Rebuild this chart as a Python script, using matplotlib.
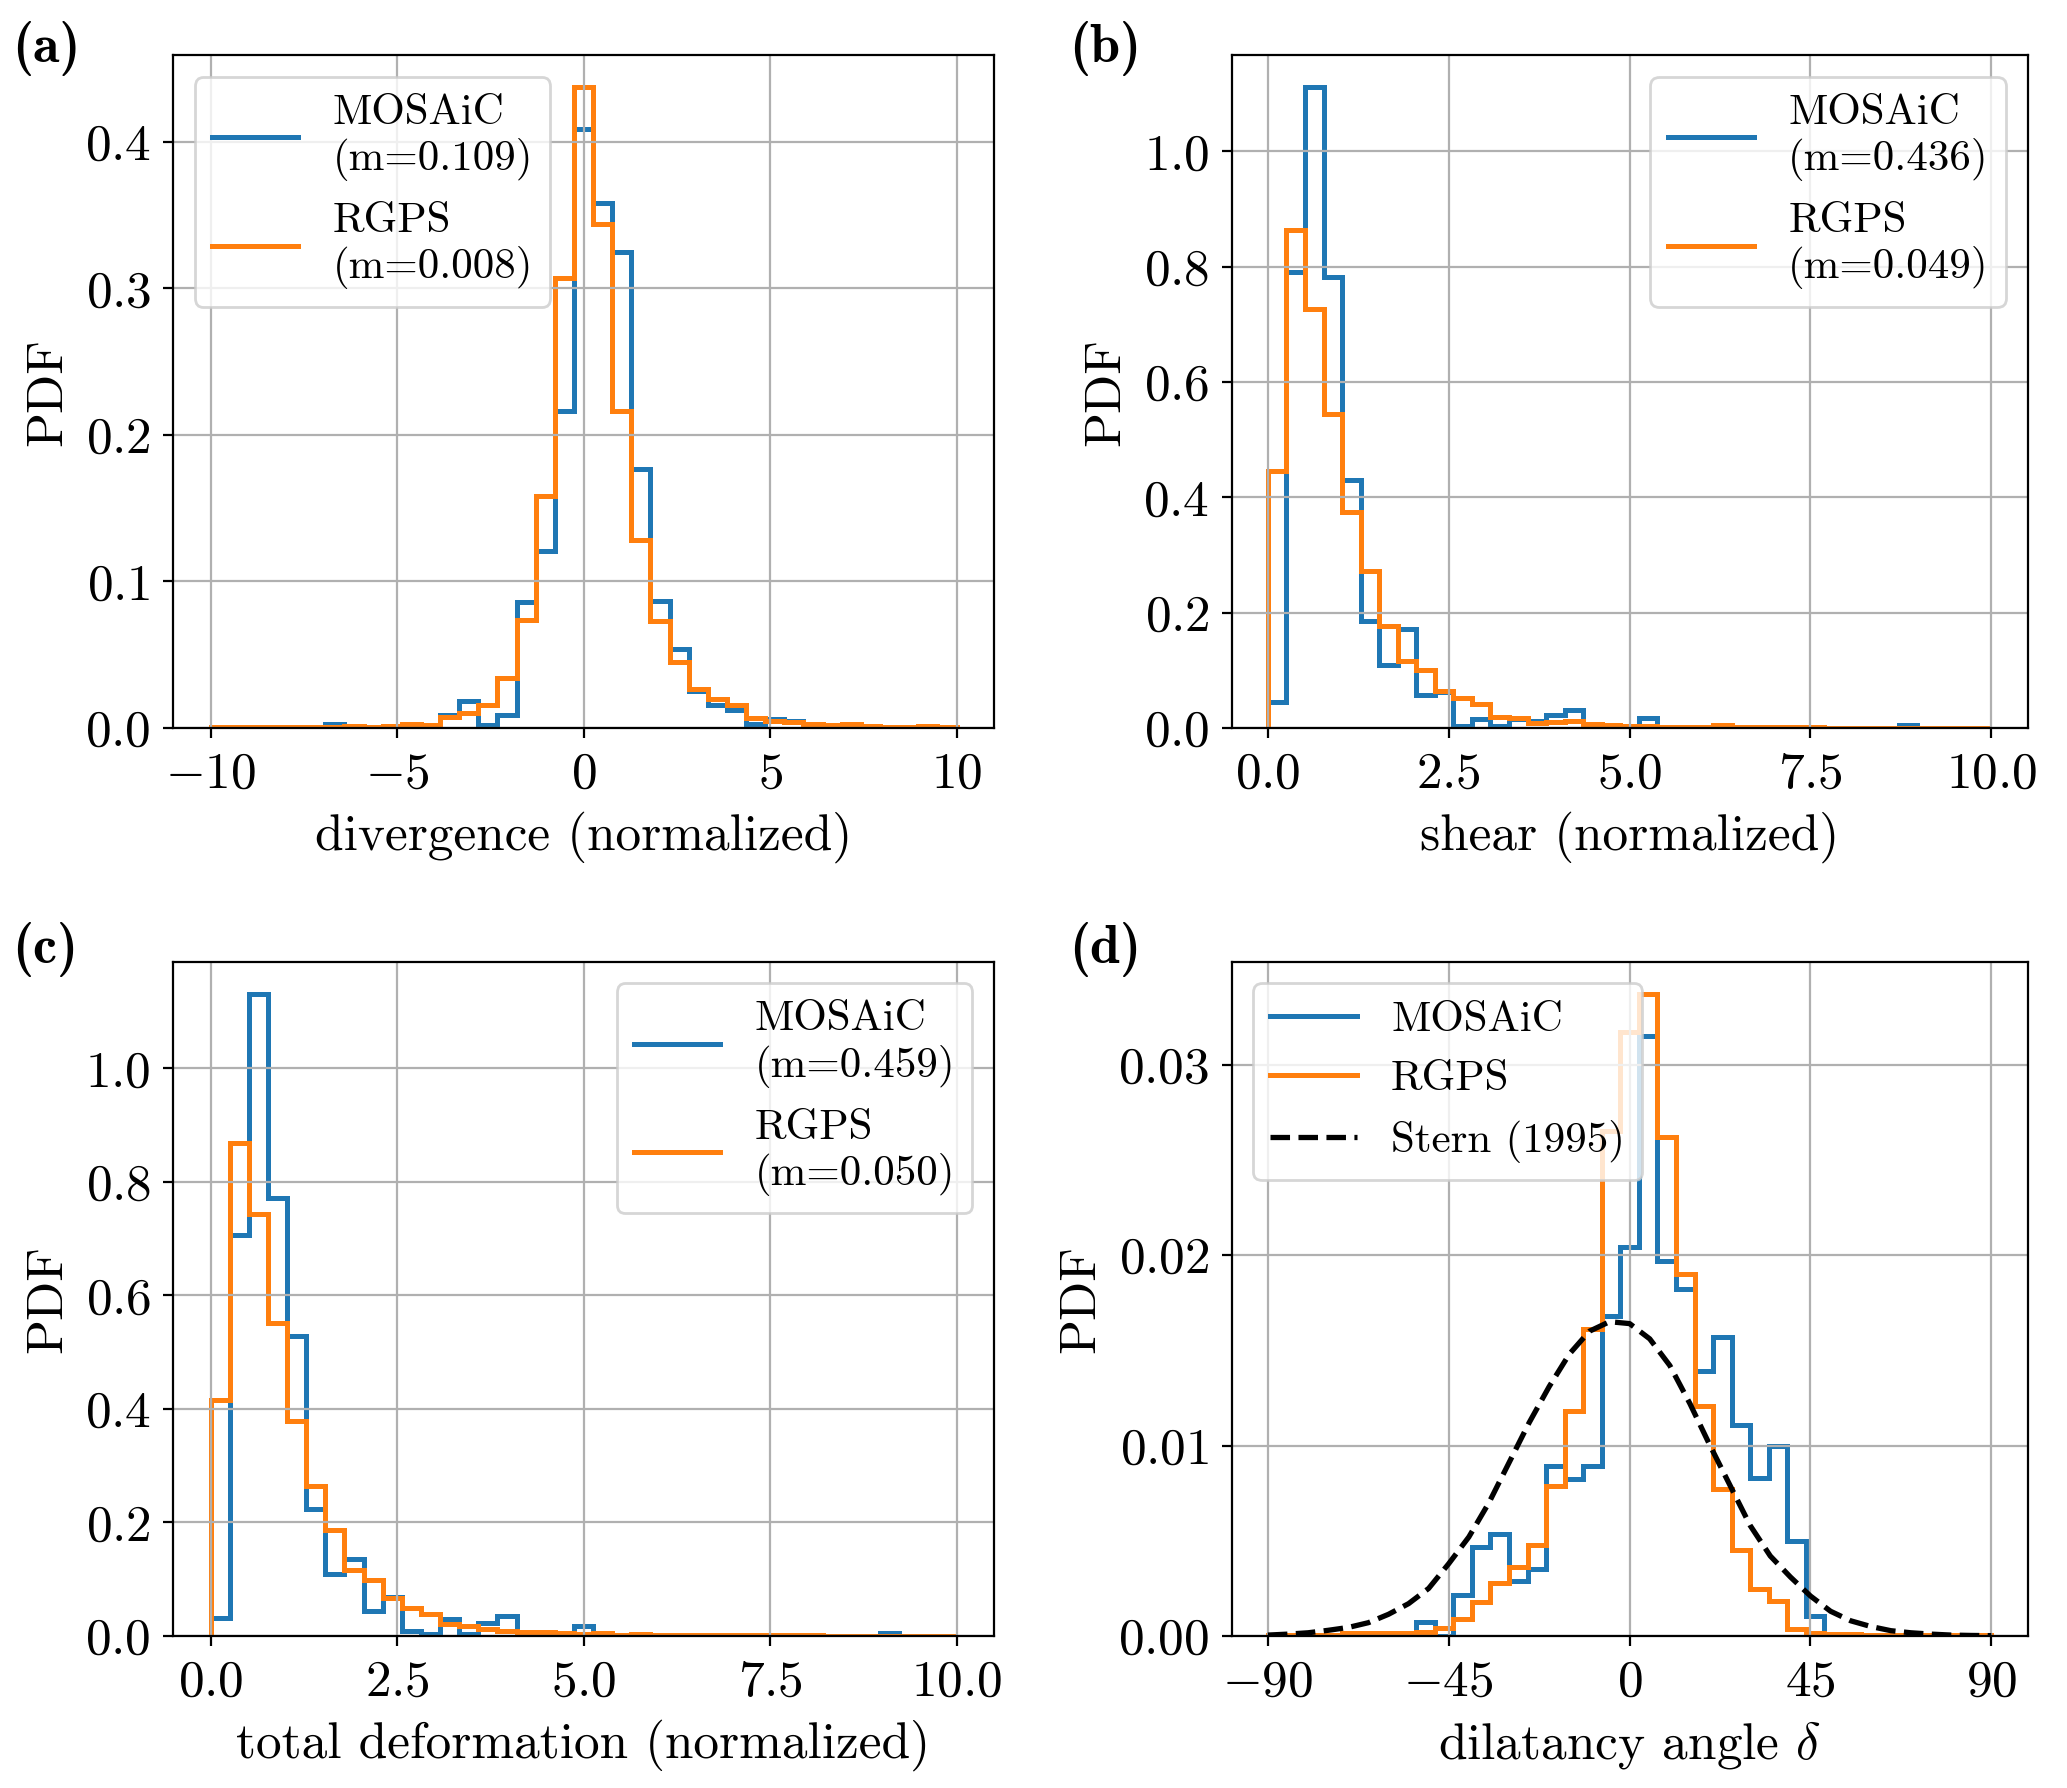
import numpy as np
import matplotlib
matplotlib.use("Agg")
import matplotlib.pyplot as plt

plt.rcParams["font.family"] = "serif"
plt.rcParams["font.serif"] = ["cmr10"]
plt.rcParams["mathtext.fontset"] = "cm"
plt.rcParams["axes.formatter.use_mathtext"] = True
plt.rcParams["font.size"] = 18.5
plt.rcParams["legend.fontsize"] = 15.5
plt.rcParams["axes.unicode_minus"] = True
plt.rcParams["xtick.major.pad"] = 5
plt.rcParams["ytick.major.pad"] = 4.5
plt.rcParams["axes.labelpad"] = 5

# bin edges (39 bins per panel)
edges_div = np.linspace(-10, 10, 40)
edges_pos = np.linspace(0, 10, 40)
edges_ang = np.linspace(-90, 90, 40)

# (a) divergence
div_mosaic = [0, 0, 0, 0, 0, 0, 0.003, 0, 0.001, 0.001,
              0.0018, 0.002, 0.009, 0.0187, 0.0023, 0.009, 0.086, 0.121, 0.216, 0.409,
              0.358, 0.325, 0.177, 0.0868, 0.054, 0.025, 0.016, 0.0126, 0.0027, 0.0064,
              0.0046, 0.002, 0.001, 0.001, 0, 0, 0, 0, 0]
div_rgps = [0.0005, 0.0005, 0.001, 0.0008, 0.0005, 0.0005, 0.0008, 0.0015, 0.001, 0.0015,
            0.0025, 0.0018, 0.0075, 0.010, 0.016, 0.034, 0.0735, 0.158, 0.307, 0.437,
            0.344, 0.216, 0.128, 0.073, 0.045, 0.0267, 0.020, 0.016, 0.0068, 0.005,
            0.004, 0.003, 0.002, 0.0025, 0.0015, 0.001, 0.001, 0.0015, 0.0005]

# (b) shear
shear_mosaic = [0.045, 0.791, 1.111, 0.783, 0.430, 0.186, 0.110, 0.172, 0.057, 0.063,
                0.0035, 0.016, 0.0035, 0.016, 0.012, 0.022, 0.031, 0.002, 0.001, 0,
                0.018, 0, 0, 0, 0, 0, 0, 0, 0, 0,
                0, 0, 0, 0, 0.006, 0, 0, 0, 0]
shear_rgps = [0.446, 0.863, 0.727, 0.544, 0.375, 0.272, 0.177, 0.117, 0.100, 0.065,
              0.053, 0.041, 0.019, 0.018, 0.0094, 0.0106, 0.012, 0.0065, 0.006, 0.003,
              0.0035, 0.0024, 0.0024, 0.0024, 0.0047, 0.0024, 0.0018, 0.0018, 0.001, 0.001,
              0.0008, 0.0008, 0.0006, 0.0006, 0.0005, 0.0005, 0.0004, 0.0004, 0.0003]

# (c) total deformation
tot_mosaic = [0.031, 0.706, 1.131, 0.771, 0.528, 0.224, 0.109, 0.135, 0.044, 0.069,
              0.009, 0.004, 0.030, 0.004, 0.023, 0.036, 0.001, 0.0006, 0.001, 0.018,
              0, 0, 0, 0, 0, 0, 0, 0, 0, 0,
              0, 0, 0, 0, 0, 0.006, 0, 0, 0]
tot_rgps = [0.416, 0.868, 0.744, 0.552, 0.379, 0.265, 0.186, 0.117, 0.098, 0.067,
            0.050, 0.039, 0.021, 0.018, 0.012, 0.0096, 0.0078, 0.0072, 0.006, 0.0042,
            0.005, 0.0024, 0.004, 0.0024, 0.0024, 0.0024, 0.0018, 0.0018, 0.0018, 0.0018,
            0.001, 0.001, 0.0008, 0.0008, 0.0006, 0.0006, 0.0005, 0.0005, 0.0004]

# (d) dilatancy angle
ang_mosaic = [0, 0, 0, 0, 0, 0, 0, 0, 0.00076, 0,
              0.00215, 0.00467, 0.00537, 0.00287, 0.00352, 0.00893, 0.00824, 0.00893, 0.01681, 0.0204,
              0.0315, 0.01967, 0.0182, 0.0139, 0.0157, 0.0111, 0.0083, 0.0100, 0.0050, 0.00106,
              0, 0, 0, 0, 0, 0, 0, 0, 0]
ang_rgps = [0.00005, 0.00005, 0.00005, 0.00005, 0.00014, 0.00014, 0.00014, 0.00018, 0.0002, 0.0004,
            0.0009, 0.0018, 0.0028, 0.0036, 0.0048, 0.0079, 0.0118, 0.0161, 0.0265, 0.0317,
            0.0337, 0.0262, 0.0190, 0.0121, 0.0077, 0.00452, 0.00246, 0.00185, 0.00035, 0.00018,
            0.0001, 0.0001, 0.00005, 0.00005, 0.00005, 0.00005, 0.00005, 0.00005, 0.00005]

stern_x = [-90, -85, -80, -75, -70, -65, -60, -55, -50, -45, -40, -35, -30, -25, -20, -15, -10, -5,
           0, 5, 10, 15, 20, 25, 30, 35, 40, 45, 50, 55, 60, 65, 70, 75, 80, 85, 90]
stern_y = [0.00005, 0.0001, 0.00017, 0.0003, 0.00045, 0.0007, 0.00114, 0.0017, 0.0025, 0.0038,
           0.0052, 0.0070, 0.0091, 0.0112, 0.0131, 0.0148, 0.0160, 0.0165,
           0.0164, 0.0156, 0.0142, 0.0122, 0.0100, 0.0079, 0.0058, 0.0042, 0.0031, 0.0021,
           0.0013, 0.0008, 0.0005, 0.00028, 0.00017, 0.0001, 0.00005, 0.00003, 0.00002]

m_vals = {"a": ("0.109", "0.008"), "b": ("0.436", "0.049"), "c": ("0.459", "0.050")}

fig = plt.figure(figsize=(10.335, 8.94), dpi=200)
ax_a = fig.add_axes([0.0838, 0.5928, 0.397, 0.3762])
ax_b = fig.add_axes([0.5959, 0.5928, 0.385, 0.3762])
ax_c = fig.add_axes([0.0838, 0.085, 0.397, 0.377])
ax_d = fig.add_axes([0.5959, 0.085, 0.385, 0.377])


def panel(ax, edges, mosaic, rgps, xlabel, key, loc):
    ax.stairs(mosaic, edges, color="tab:blue", lw=1.8,
              label="MOSAiC\n(m=%s)" % m_vals[key][0])
    ax.stairs(rgps, edges, color="tab:orange", lw=1.8,
              label="RGPS\n(m=%s)" % m_vals[key][1])
    ax.set_xlabel(xlabel)
    ax.set_ylabel("PDF")
    ax.grid(True)
    ax.legend(loc=loc)


panel(ax_a, edges_div, div_mosaic, div_rgps, "divergence (normalized)", "a", "upper left")
panel(ax_b, edges_pos, shear_mosaic, shear_rgps, "shear (normalized)", "b", "upper right")
panel(ax_c, edges_pos, tot_mosaic, tot_rgps, "total deformation (normalized)", "c", "upper right")
ax_a.set_xticks([-10, -5, 0, 5, 10])

ax_d.stairs(ang_mosaic, edges_ang, color="tab:blue", lw=1.8, label="MOSAiC")
ax_d.stairs(ang_rgps, edges_ang, color="tab:orange", lw=1.8, label="RGPS")
ax_d.plot(stern_x, stern_y, "k--", lw=1.9, label="Stern (1995)")
ax_d.set_xticks([-90, -45, 0, 45, 90])
ax_d.set_xlabel(r"dilatancy angle $\delta$")
ax_d.set_ylabel("PDF")
ax_d.grid(True)
ax_d.legend(loc="upper left")

for x, y, s in [(0.006, 0.973, "(a)"), (0.517, 0.973, "(b)"),
                (0.006, 0.469, "(c)"), (0.517, 0.469, "(d)")]:
    fig.text(x, y, s, family="cmb10", fontsize=19.5, va="center", ha="left")

fig.savefig("out.png", dpi=200)
